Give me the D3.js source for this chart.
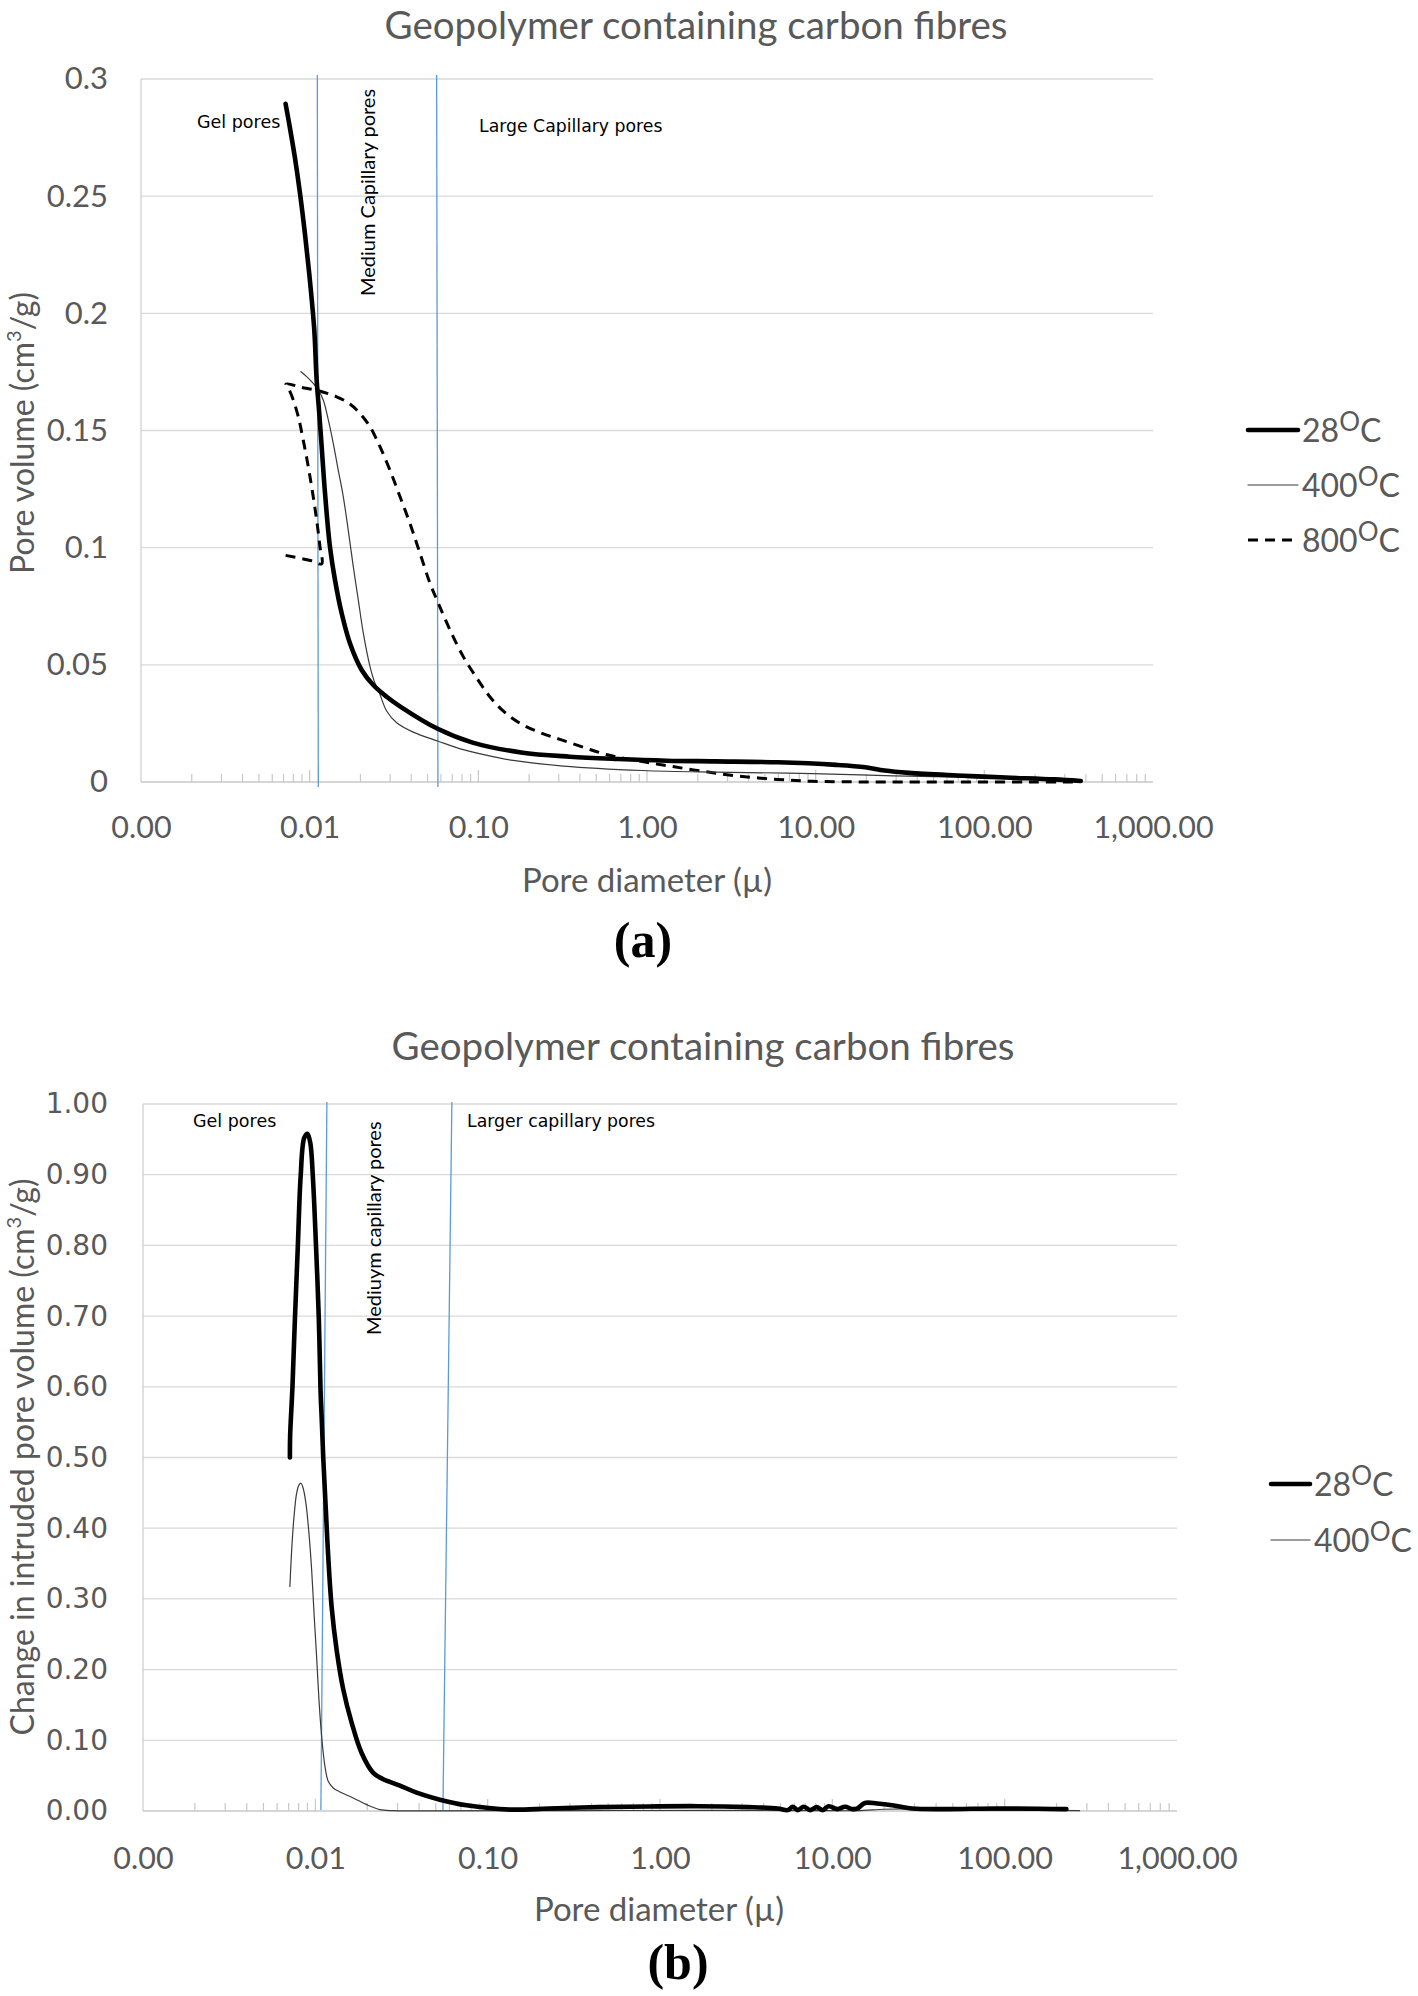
<!DOCTYPE html>
<html><head><meta charset="utf-8">
<script src="https://cdn.jsdelivr.net/npm/d3@7"></script>
<style>body{margin:0;background:#fff}</style>
</head><body>
<svg id="c" width="1418" height="1996" xmlns="http://www.w3.org/2000/svg"></svg>
<script>
// ---------- data ----------
const xTickValues = [0.001, 0.01, 0.1, 1, 10, 100, 1000];
const xTickLabels = ["0.00", "0.01", "0.10", "1.00", "10.00", "100.00", "1,000.00"];

const aYTicks = [0, 0.05, 0.1, 0.15, 0.2, 0.25, 0.3];
const aYLabels = ["0", "0.05", "0.1", "0.15", "0.2", "0.25", "0.3"];
const bYTicks = [0, 0.1, 0.2, 0.3, 0.4, 0.5, 0.6, 0.7, 0.8, 0.9, 1.0];
const bYLabels = ["0.00", "0.10", "0.20", "0.30", "0.40", "0.50", "0.60", "0.70", "0.80", "0.90", "1.00"];

// Panel (a): cumulative pore volume, [diameter (µ), volume (cm3/g)]
const a28 = [[0.0072,0.2894],[0.00764,0.2791],[0.00818,0.2663],[0.00876,0.2513],[0.00938,0.2338],[0.01004,0.2138],
  [0.01065,0.1929],[0.011,0.1716],[0.0114,0.1573],[0.01178,0.1431],[0.01216,0.1289],[0.01261,0.1147],[0.01319,0.1004],
  [0.01413,0.0862],[0.01548,0.072],[0.01733,0.0592],[0.02034,0.0478],[0.02382,0.0414],[0.0286,0.0364],[0.0343,0.0323],
  [0.0574,0.0227],[0.0925,0.0168],[0.1793,0.0126],[0.3477,0.0108],[0.673,0.0098],[1.305,0.0091],[2.53,0.0088],
  [5.98,0.0084],[13.2,0.0073],[19.7,0.0063],[25.6,0.0049],[35.7,0.0039],[69.1,0.0028],[134,0.0019],[259.6,0.0011],[373,0.0004]];
const a400 = [[0.00888,0.1751],[0.0096,0.173],[0.0105,0.1701],[0.01125,0.1673],[0.01204,0.163],[0.0129,0.1545],
  [0.0138,0.1445],[0.01477,0.1331],[0.01582,0.1218],[0.01693,0.1075],[0.01814,0.0919],[0.01942,0.0777],[0.0208,0.0635],
  [0.0228,0.0492],[0.0244,0.0421],[0.0255,0.0394],[0.0286,0.0303],[0.0328,0.0253],[0.0411,0.0213],[0.0579,0.0174],
  [0.0814,0.0138],[0.1289,0.0105],[0.161,0.0092],[0.3187,0.0068],[0.938,0.0049],[2.53,0.0042],[6.82,0.0038],
  [18.4,0.003],[35.7,0.0025],[69.1,0.0021],[134,0.0014],[296,0.0006]];
const a800 = [[0.0072,0.0967],[0.01042,0.0943],[0.01178,0.0931],[0.01151,0.1004],[0.011,0.1118],[0.01042,0.1232],
  [0.00981,0.1346],[0.00916,0.1459],[0.00856,0.1559],[0.008,0.163],[0.00757,0.1673],[0.00724,0.1698],[0.00897,0.1684],
  [0.01125,0.167],[0.01445,0.1644],[0.01733,0.1613],[0.01987,0.1573],[0.02278,0.1516],[0.02611,0.1431],[0.02992,0.1331],
  [0.0343,0.1218],[0.0393,0.1104],[0.0451,0.0976],[0.0517,0.0848],[0.0579,0.0763],[0.0679,0.0649],[0.0814,0.0535],
  [0.0977,0.0445],[0.1167,0.0365],[0.142,0.030],[0.1793,0.0248],[0.2337,0.021],[0.3046,0.0182],[0.424,0.0147],
  [0.5897,0.0115],[0.938,0.0087],[1.393,0.0067],[2.216,0.0044],[3.52,0.0025],[5.98,0.0011],[9.5,0.0003],[25.6,0],
  [186.6,0],[361,0]];

// Panel (b): change in intruded pore volume
const b28 = [[0.00712,0.5],[0.00714,0.53],[0.00737,0.601],[0.00761,0.695],[0.00791,0.797],[0.00822,0.898],
  [0.00862,0.952],[0.009,0.958],[0.00935,0.945],[0.00967,0.898],[0.0101,0.797],[0.01048,0.695],[0.01072,0.595],
  [0.01092,0.548],[0.01111,0.501],[0.01148,0.431],[0.01188,0.36],[0.01243,0.289],[0.01329,0.228],[0.01452,0.172],
  [0.01624,0.125],[0.01856,0.082],[0.02167,0.054],[0.02476,0.045],[0.03097,0.036],[0.0387,0.026],[0.0528,0.016],
  [0.0754,0.008],[0.1345,0.002],[0.2264,0.0035],[0.4415,0.0055],[0.859,0.0064],[1.668,0.0068],[3.24,0.0055],
  [4.82,0.0036],[5.52,0.0013],[5.89,0.006],[6.3,0.0013],[6.82,0.006],[7.43,0.0013],[8.11,0.0055],[8.79,0.0013],
  [9.52,0.0068],[10.7,0.0027],[11.85,0.006],[13.09,0.0027],[13.99,0.0036],[15.45,0.0114],[18.2,0.0105],
  [22.2,0.0082],[29,0.0036],[46.3,0.0027],[90,0.0036],[228,0.0027]];
const b400 = [[0.00712,0.3175],[0.00719,0.341],[0.00735,0.3835],[0.00755,0.421],[0.00779,0.4495],[0.00803,0.461],
  [0.00825,0.4636],[0.0085,0.4565],[0.00882,0.435],[0.00918,0.393],[0.00952,0.341],[0.00985,0.275],[0.01017,0.2186],
  [0.0105,0.157],[0.01088,0.1056],[0.01137,0.0632],[0.01188,0.042],[0.0127,0.0326],[0.0139,0.027],[0.01659,0.0185],
  [0.01984,0.009],[0.0237,0.002],[0.0283,0.0005],[0.0442,0.0003],[0.3,0.0006],[2,0.0008],[8,0.0006],[14,0.0005],
  [20,0.0025],[28,0.003],[40,0.0015],[100,0.001],[272,0.0005]];

// pore-class divider lines, [diameter at top, diameter at bottom]
const aDividers = [[0.0111, 0.01125], [0.0566, 0.0576]];
const bDividers = [[0.01167, 0.01077], [0.062, 0.055]];

const aLegend = ["28", "400", "800"];
const bLegend = ["28", "400"];

// ---------- drawing ----------
const svg = d3.select("#c");
const GREY = "#595959";
const SANS = "Lato, 'Open Sans', sans-serif";
const WIDE = "'DejaVu Sans', Verdana, sans-serif";

const styles = {
  "28":  {w: 4.6, c: "#000", dash: null},
  "400": {w: 1.2, c: "#3a3a3a", dash: null},
  "800": {w: 3, c: "#000", dash: "10,7"}
};

function drawPanel(p) {
  const x = d3.scaleLog().domain([0.001, 1000]).range([p.left, p.right]);
  const y = d3.scaleLinear().domain([0, p.yMax]).range([p.bottom, p.top]);
  const g = svg.append("g");

  // gridlines
  g.selectAll(null).data(p.yTicks.filter(d => d > 0)).join("line")
    .attr("x1", p.left).attr("x2", p.right)
    .attr("y1", d => y(d)).attr("y2", d => y(d))
    .attr("stroke", "#d9d9d9").attr("stroke-width", 1.3);
  // axis lines
  g.append("line").attr("x1", p.left).attr("x2", p.left).attr("y1", y(p.yMax)).attr("y2", y(0))
    .attr("stroke", "#d0d0d0").attr("stroke-width", 1.3);
  g.append("line").attr("x1", p.left).attr("x2", p.right).attr("y1", y(0)).attr("y2", y(0))
    .attr("stroke", "#c8c8c8").attr("stroke-width", 1.5);

  // minor / major log ticks (inside, upward)
  const minor = [];
  for (let n = -3; n <= 2; n++) for (let k = 2; k <= 9; k++) minor.push(k * Math.pow(10, n));
  g.selectAll(null).data(minor).join("line")
    .attr("x1", d => x(d)).attr("x2", d => x(d))
    .attr("y1", y(0)).attr("y2", y(0) - 8)
    .attr("stroke", "#c8c8c8").attr("stroke-width", 1.2);
  g.selectAll(null).data(xTickValues.slice(1, -1)).join("line")
    .attr("x1", d => x(d)).attr("x2", d => x(d))
    .attr("y1", y(0)).attr("y2", y(0) - 12)
    .attr("stroke", "#c8c8c8").attr("stroke-width", 1.2);

  // y axis labels
  const ya = g.append("g").attr("transform", `translate(${p.left},0)`)
    .call(d3.axisLeft(y).tickValues(p.yTicks).tickFormat((d, i) => p.yLabels[i]).tickSize(0).tickPadding(p.left - 108));
  ya.select(".domain").remove();
  ya.selectAll("text").attr("font-family", p.yFont).attr("font-size", p.yFontSize).attr("fill", GREY);

  // x axis labels
  const xa = g.append("g").attr("transform", `translate(0,${p.bottom})`)
    .call(d3.axisBottom(x).tickValues(xTickValues).tickFormat((d, i) => xTickLabels[i]).tickSize(0).tickPadding(p.xPad));
  xa.select(".domain").remove();
  xa.selectAll("text").attr("font-family", SANS).attr("font-size", 30.5).attr("fill", GREY);

  // title
  g.append("text").attr("x", p.titleX).attr("y", p.titleY).attr("text-anchor", "middle")
    .attr("font-family", SANS).attr("font-size", 38.5).attr("fill", GREY)
    .text("Geopolymer containing carbon fibres");

  // axis titles
  const yt = g.append("text").attr("transform", `translate(${p.yTitleX},${p.yTitleY}) rotate(-90)`)
    .attr("text-anchor", "middle").attr("font-family", SANS).attr("font-size", 32).attr("fill", GREY);
  yt.append("tspan").text(p.yTitle + " (cm");
  yt.append("tspan").attr("font-size", 20).attr("dy", -13).text("3");
  yt.append("tspan").attr("dy", 13).text("/g)");

  g.append("text").attr("x", p.xTitleX).attr("y", p.xTitleY).attr("text-anchor", "middle")
    .attr("font-family", SANS).attr("font-size", 33).attr("fill", GREY).text("Pore diameter (µ)");

  // panel letter
  g.append("text").attr("x", p.letterX).attr("y", p.letterY).attr("text-anchor", "middle")
    .attr("font-family", "'Liberation Serif', 'Times New Roman', serif").attr("font-weight", "bold")
    .attr("font-size", 50).attr("fill", "#000").text(p.letter);

  // divider lines
  g.selectAll(null).data(p.dividers).join("line")
    .attr("x1", d => x(d[0])).attr("x2", d => x(d[1]))
    .attr("y1", p.top + p.divTop).attr("y2", p.bottom + p.divBottom)
    .attr("stroke", "#5b9bd5").attr("stroke-width", 1.3);

  // annotation labels
  p.labels.forEach(l => {
    const t = g.append("text").attr("font-family", l.font).attr("font-size", l.size).attr("fill", "#000").text(l.text);
    if (l.rot) t.attr("transform", `translate(${l.x},${l.y}) rotate(-90)`);
    else t.attr("x", l.x).attr("y", l.y);
  });

  // series
  const line = d3.line().x(d => x(d[0])).y(d => y(d[1])).curve(d3.curveCatmullRom.alpha(0.5));
  p.series.forEach(s => {
    const st = styles[s.key];
    g.append("path").datum(s.data).attr("d", line)
      .attr("fill", "none").attr("stroke", st.c).attr("stroke-width", st.w)
      .attr("stroke-dasharray", st.dash).attr("stroke-linejoin", "round").attr("stroke-linecap", st.dash ? "butt" : "round");
  });

  // legend
  p.legend.forEach((k, i) => {
    const st = styles[k];
    const ly = p.legY + i * p.legStep;
    g.append("line").attr("x1", p.legX1).attr("x2", p.legX2).attr("y1", ly).attr("y2", ly)
      .attr("stroke", st.c).attr("stroke-width", st.w).attr("stroke-dasharray", st.dash)
      .attr("stroke-linecap", st.dash ? "butt" : "round");
    const t = g.append("text").attr("x", p.legX2 + 4).attr("y", ly + 12)
      .attr("font-family", SANS).attr("font-size", 32).attr("fill", GREY);
    t.append("tspan").text(k);
    t.append("tspan").attr("font-size", 26).attr("dy", -11).text("O");
    t.append("tspan").attr("dy", 11).text("C");
  });
}

drawPanel({
  left: 141, right: 1153, top: 79, bottom: 782, yMax: 0.3,
  yTicks: aYTicks, yLabels: aYLabels, yFont: SANS, yFontSize: 31, xPad: 34,
  titleX: 696, titleY: 39,
  yTitle: "Pore volume", yTitleX: 34, yTitleY: 433,
  xTitleX: 647, xTitleY: 892,
  letter: "(a)", letterX: 643, letterY: 957,
  dividers: aDividers, divTop: -4, divBottom: 5,
  labels: [
    {text: "Gel pores", x: 197, y: 128, size: 17.5, font: WIDE},
    {text: "Large Capillary pores", x: 479, y: 132, size: 17.3, font: WIDE},
    {text: "Medium Capillary pores", x: 375, y: 296, size: 20, font: SANS, rot: true}
  ],
  series: [{key: "800", data: a800}, {key: "400", data: a400}, {key: "28", data: a28}],
  legend: aLegend, legX1: 1248, legX2: 1298, legY: 430, legStep: 55
});

drawPanel({
  left: 143, right: 1177, top: 1104, bottom: 1811, yMax: 1.0,
  yTicks: bYTicks, yLabels: bYLabels, yFont: WIDE, yFontSize: 28, xPad: 36,
  titleX: 703, titleY: 1060,
  yTitle: "Change in intruded pore volume", yTitleX: 34, yTitleY: 1457,
  xTitleX: 659, xTitleY: 1921,
  letter: "(b)", letterX: 678, letterY: 1979,
  dividers: bDividers, divTop: -2, divBottom: -1,
  labels: [
    {text: "Gel pores", x: 193, y: 1127, size: 17.5, font: WIDE},
    {text: "Larger capillary pores", x: 467, y: 1127, size: 17.3, font: WIDE},
    {text: "Mediuym capillary pores", x: 381, y: 1335, size: 20, font: SANS, rot: true}
  ],
  series: [{key: "400", data: b400}, {key: "28", data: b28}],
  legend: bLegend, legX1: 1271, legX2: 1310, legY: 1484, legStep: 56
});
</script>
</body></html>
